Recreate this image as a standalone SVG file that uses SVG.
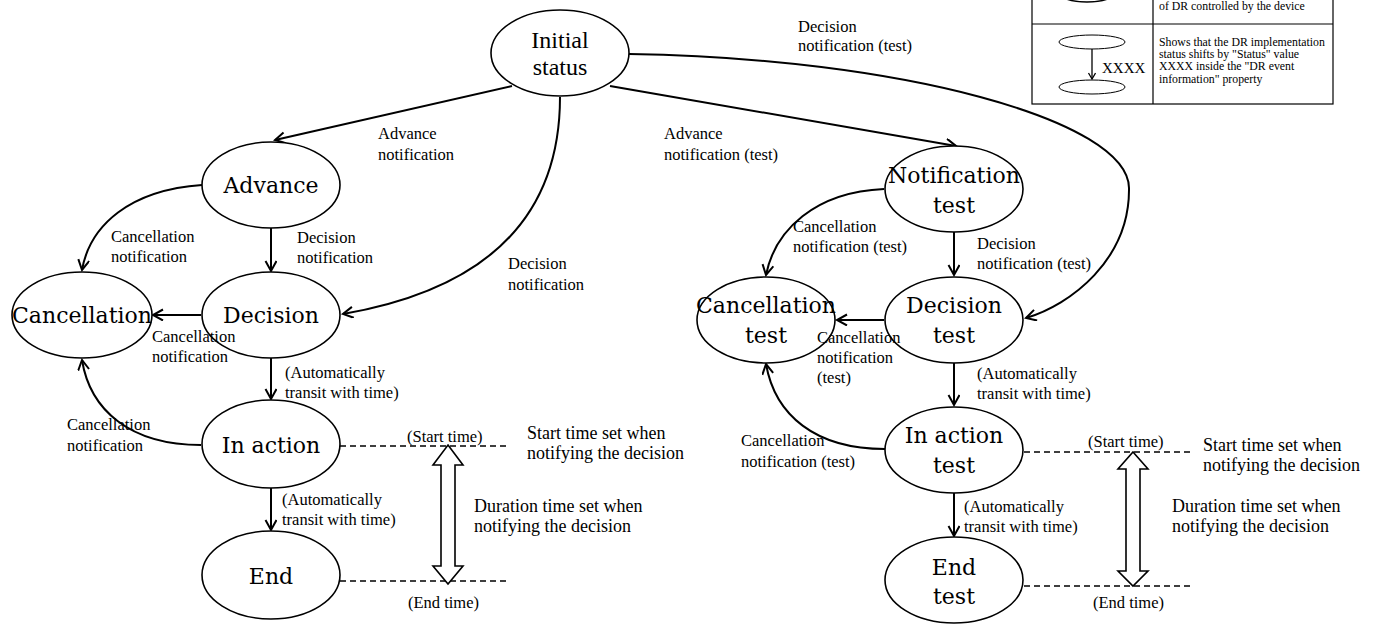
<svg xmlns="http://www.w3.org/2000/svg" width="1373" height="624" viewBox="0 0 1373 624">
<defs>
<marker id="arr" markerUnits="userSpaceOnUse" markerWidth="14" markerHeight="14" refX="11" refY="6" orient="auto">
<path d="M1,0.5 L11,6 L1,11.5" fill="none" stroke="#000" stroke-width="2"/>
</marker>
<marker id="arrs" markerUnits="userSpaceOnUse" markerWidth="10" markerHeight="10" refX="7" refY="4" orient="auto">
<path d="M1,0.5 L7,4 L1,7.5" fill="none" stroke="#000" stroke-width="1.3"/>
</marker>
</defs>
<style>
.n{fill:#fff;stroke:#000;stroke-width:1.6}
.nt{font-family:"DejaVu Serif",serif;font-size:22px;text-anchor:middle;fill:#000}
.nti{font-family:"Liberation Serif",serif;font-size:24px;text-anchor:middle;fill:#000}
.e{fill:none;stroke:#000;stroke-width:2;marker-end:url(#arr)}
.l{font-family:"Liberation Serif",serif;font-size:16.5px;fill:#000}
.b{font-family:"Liberation Serif",serif;font-size:18px;fill:#000}
.d{fill:none;stroke:#000;stroke-width:1.5;stroke-dasharray:6,4}
.h{fill:#fff;stroke:#000;stroke-width:1.6}
.lg{font-family:"Liberation Serif",serif;font-size:11.8px;fill:#000}
</style>
<rect width="1373" height="624" fill="#fff"/>
<g id="connectors">
<path class="e" d="M512,86 L275,140"/>
<path class="e" d="M560,97 C560,230 470,292 343,314"/>
<path class="e" d="M610,86 L956,146"/>
<path class="e" d="M629,54 C900,58 1128,120 1129,188 C1130,260 1070,305 1026,318"/>
<path class="e" d="M202,185 C130,190 90,225 82,270"/>
<path class="e" d="M271,228 L271,271"/>
<path class="e" d="M201,315 L153,315"/>
<path class="e" d="M271,358 L271,399"/>
<path class="e" d="M201,445 C130,445 90,410 82,360"/>
<path class="e" d="M271,488 L271,530"/>
<path class="e" d="M884,189 C815,192 775,230 766,275"/>
<path class="e" d="M954,232 L954,275"/>
<path class="e" d="M884,320 L837,320"/>
<path class="e" d="M954,363 L954,405"/>
<path class="e" d="M885,449 C815,449 775,415 766,364"/>
<path class="e" d="M954,493 L954,536"/>
<path class="d" d="M340,446 L508,446 M340,581 L508,581 M1024,452 L1192,452 M1024,586 L1192,586"/>
<path class="h" d="M448,445 L463,465 L455,465 L455,566 L463,566 L448,584 L433,566 L441,566 L441,465 L433,465 Z"/>
<path class="h" d="M1133,452 L1148,469 L1140,469 L1140,571 L1148,571 L1133,586 L1118,571 L1126,571 L1126,469 L1118,469 Z"/>
</g>
<g id="initial"><ellipse class="n" cx="560" cy="53" rx="69" ry="43"/><text class="nti" x="560" y="48">Initial</text><text class="nti" x="560" y="75">status</text></g>
<g id="advance"><ellipse class="n" cx="271" cy="185" rx="69" ry="43"/><text class="nt" x="271" y="193">Advance</text></g>
<g id="decision"><ellipse class="n" cx="271" cy="315" rx="69" ry="43"/><text class="nt" x="271" y="323">Decision</text></g>
<g id="cancellation"><ellipse class="n" cx="82" cy="315" rx="70" ry="43"/><text class="nt" x="82" y="323">Cancellation</text></g>
<g id="inaction"><ellipse class="n" cx="271" cy="444" rx="69" ry="44"/><text class="nt" x="271" y="453">In action</text></g>
<g id="end"><ellipse class="n" cx="271" cy="575" rx="69" ry="44"/><text class="nt" x="271" y="584">End</text></g>
<g id="notiftest"><ellipse class="n" cx="954" cy="189" rx="69" ry="43"/><text class="nt" x="954" y="183">Notification</text><text class="nt" x="954" y="213">test</text></g>
<g id="dectest"><ellipse class="n" cx="954" cy="320" rx="69" ry="43"/><text class="nt" x="954" y="313">Decision</text><text class="nt" x="954" y="343">test</text></g>
<g id="canctest"><ellipse class="n" cx="766" cy="320" rx="69" ry="43"/><text class="nt" x="766" y="313">Cancellation</text><text class="nt" x="766" y="343">test</text></g>
<g id="inactiontest"><ellipse class="n" cx="954" cy="450" rx="69" ry="43"/><text class="nt" x="954" y="443">In action</text><text class="nt" x="954" y="473">test</text></g>
<g id="endtest"><ellipse class="n" cx="954" cy="580" rx="69" ry="43"/><text class="nt" x="954" y="575">End</text><text class="nt" x="954" y="604">test</text></g>
<g id="labels">
<text class="l" x="378" y="139">Advance</text><text class="l" x="378" y="160">notification</text>
<text class="l" x="297" y="243">Decision</text><text class="l" x="297" y="263">notification</text>
<text class="l" x="508" y="269">Decision</text><text class="l" x="508" y="290">notification</text>
<text class="l" x="111" y="242">Cancellation</text><text class="l" x="111" y="262">notification</text>
<text class="l" x="152" y="342">Cancellation</text><text class="l" x="152" y="362">notification</text>
<text class="l" x="285" y="378">(Automatically</text><text class="l" x="285" y="398">transit with time)</text>
<text class="l" x="67" y="430">Cancellation</text><text class="l" x="67" y="451">notification</text>
<text class="l" x="282" y="505">(Automatically</text><text class="l" x="282" y="525">transit with time)</text>
<text class="l" x="407" y="442">(Start time)</text>
<text class="l" x="408" y="608">(End time)</text>
<text class="b" x="527" y="439">Start time set when</text><text class="b" x="527" y="459">notifying the decision</text>
<text class="b" x="474" y="512">Duration time set when</text><text class="b" x="474" y="532">notifying the decision</text>
<text class="l" x="798" y="32">Decision</text><text class="l" x="798" y="51">notification (test)</text>
<text class="l" x="664" y="139">Advance</text><text class="l" x="664" y="160">notification (test)</text>
<text class="l" x="793" y="232">Cancellation</text><text class="l" x="793" y="252">notification (test)</text>
<text class="l" x="977" y="249">Decision</text><text class="l" x="977" y="269">notification (test)</text>
<text class="l" x="817" y="343">Cancellation</text><text class="l" x="817" y="363">notification</text><text class="l" x="817" y="383">(test)</text>
<text class="l" x="977" y="379">(Automatically</text><text class="l" x="977" y="399">transit with time)</text>
<text class="l" x="741" y="446">Cancellation</text><text class="l" x="741" y="467">notification (test)</text>
<text class="l" x="964" y="512">(Automatically</text><text class="l" x="964" y="532">transit with time)</text>
<text class="l" x="1088" y="447">(Start time)</text>
<text class="l" x="1093" y="608">(End time)</text>
<text class="b" x="1203" y="451">Start time set when</text><text class="b" x="1203" y="471">notifying the decision</text>
<text class="b" x="1172" y="512">Duration time set when</text><text class="b" x="1172" y="532">notifying the decision</text>
</g>
<g id="legend">
<rect x="1032" y="-20" width="301" height="124" fill="#fff" stroke="#000" stroke-width="1.2"/>
<path d="M1153,-20 L1153,104 M1032,24 L1333,24" stroke="#000" stroke-width="1.2" fill="none"/>
<ellipse cx="1087" cy="-7" rx="28" ry="9" fill="none" stroke="#000" stroke-width="1.5"/>
<text class="lg" x="1159" y="10">of DR controlled by the device</text>
<ellipse cx="1092" cy="42" rx="33" ry="7" fill="none" stroke="#000" stroke-width="1"/>
<ellipse cx="1092" cy="87" rx="33" ry="7" fill="none" stroke="#000" stroke-width="1"/>
<path d="M1092,49 L1092,79" fill="none" stroke="#000" stroke-width="1.3" marker-end="url(#arrs)"/>
<text x="1102" y="73" font-family="Liberation Serif, serif" font-size="15" fill="#000">XXXX</text>
<text class="lg" x="1159" y="46">Shows that the DR implementation</text>
<text class="lg" x="1159" y="58">status shifts by "Status" value</text>
<text class="lg" x="1159" y="70">XXXX inside the "DR event</text>
<text class="lg" x="1159" y="83">information" property</text>
</g>
</svg>
